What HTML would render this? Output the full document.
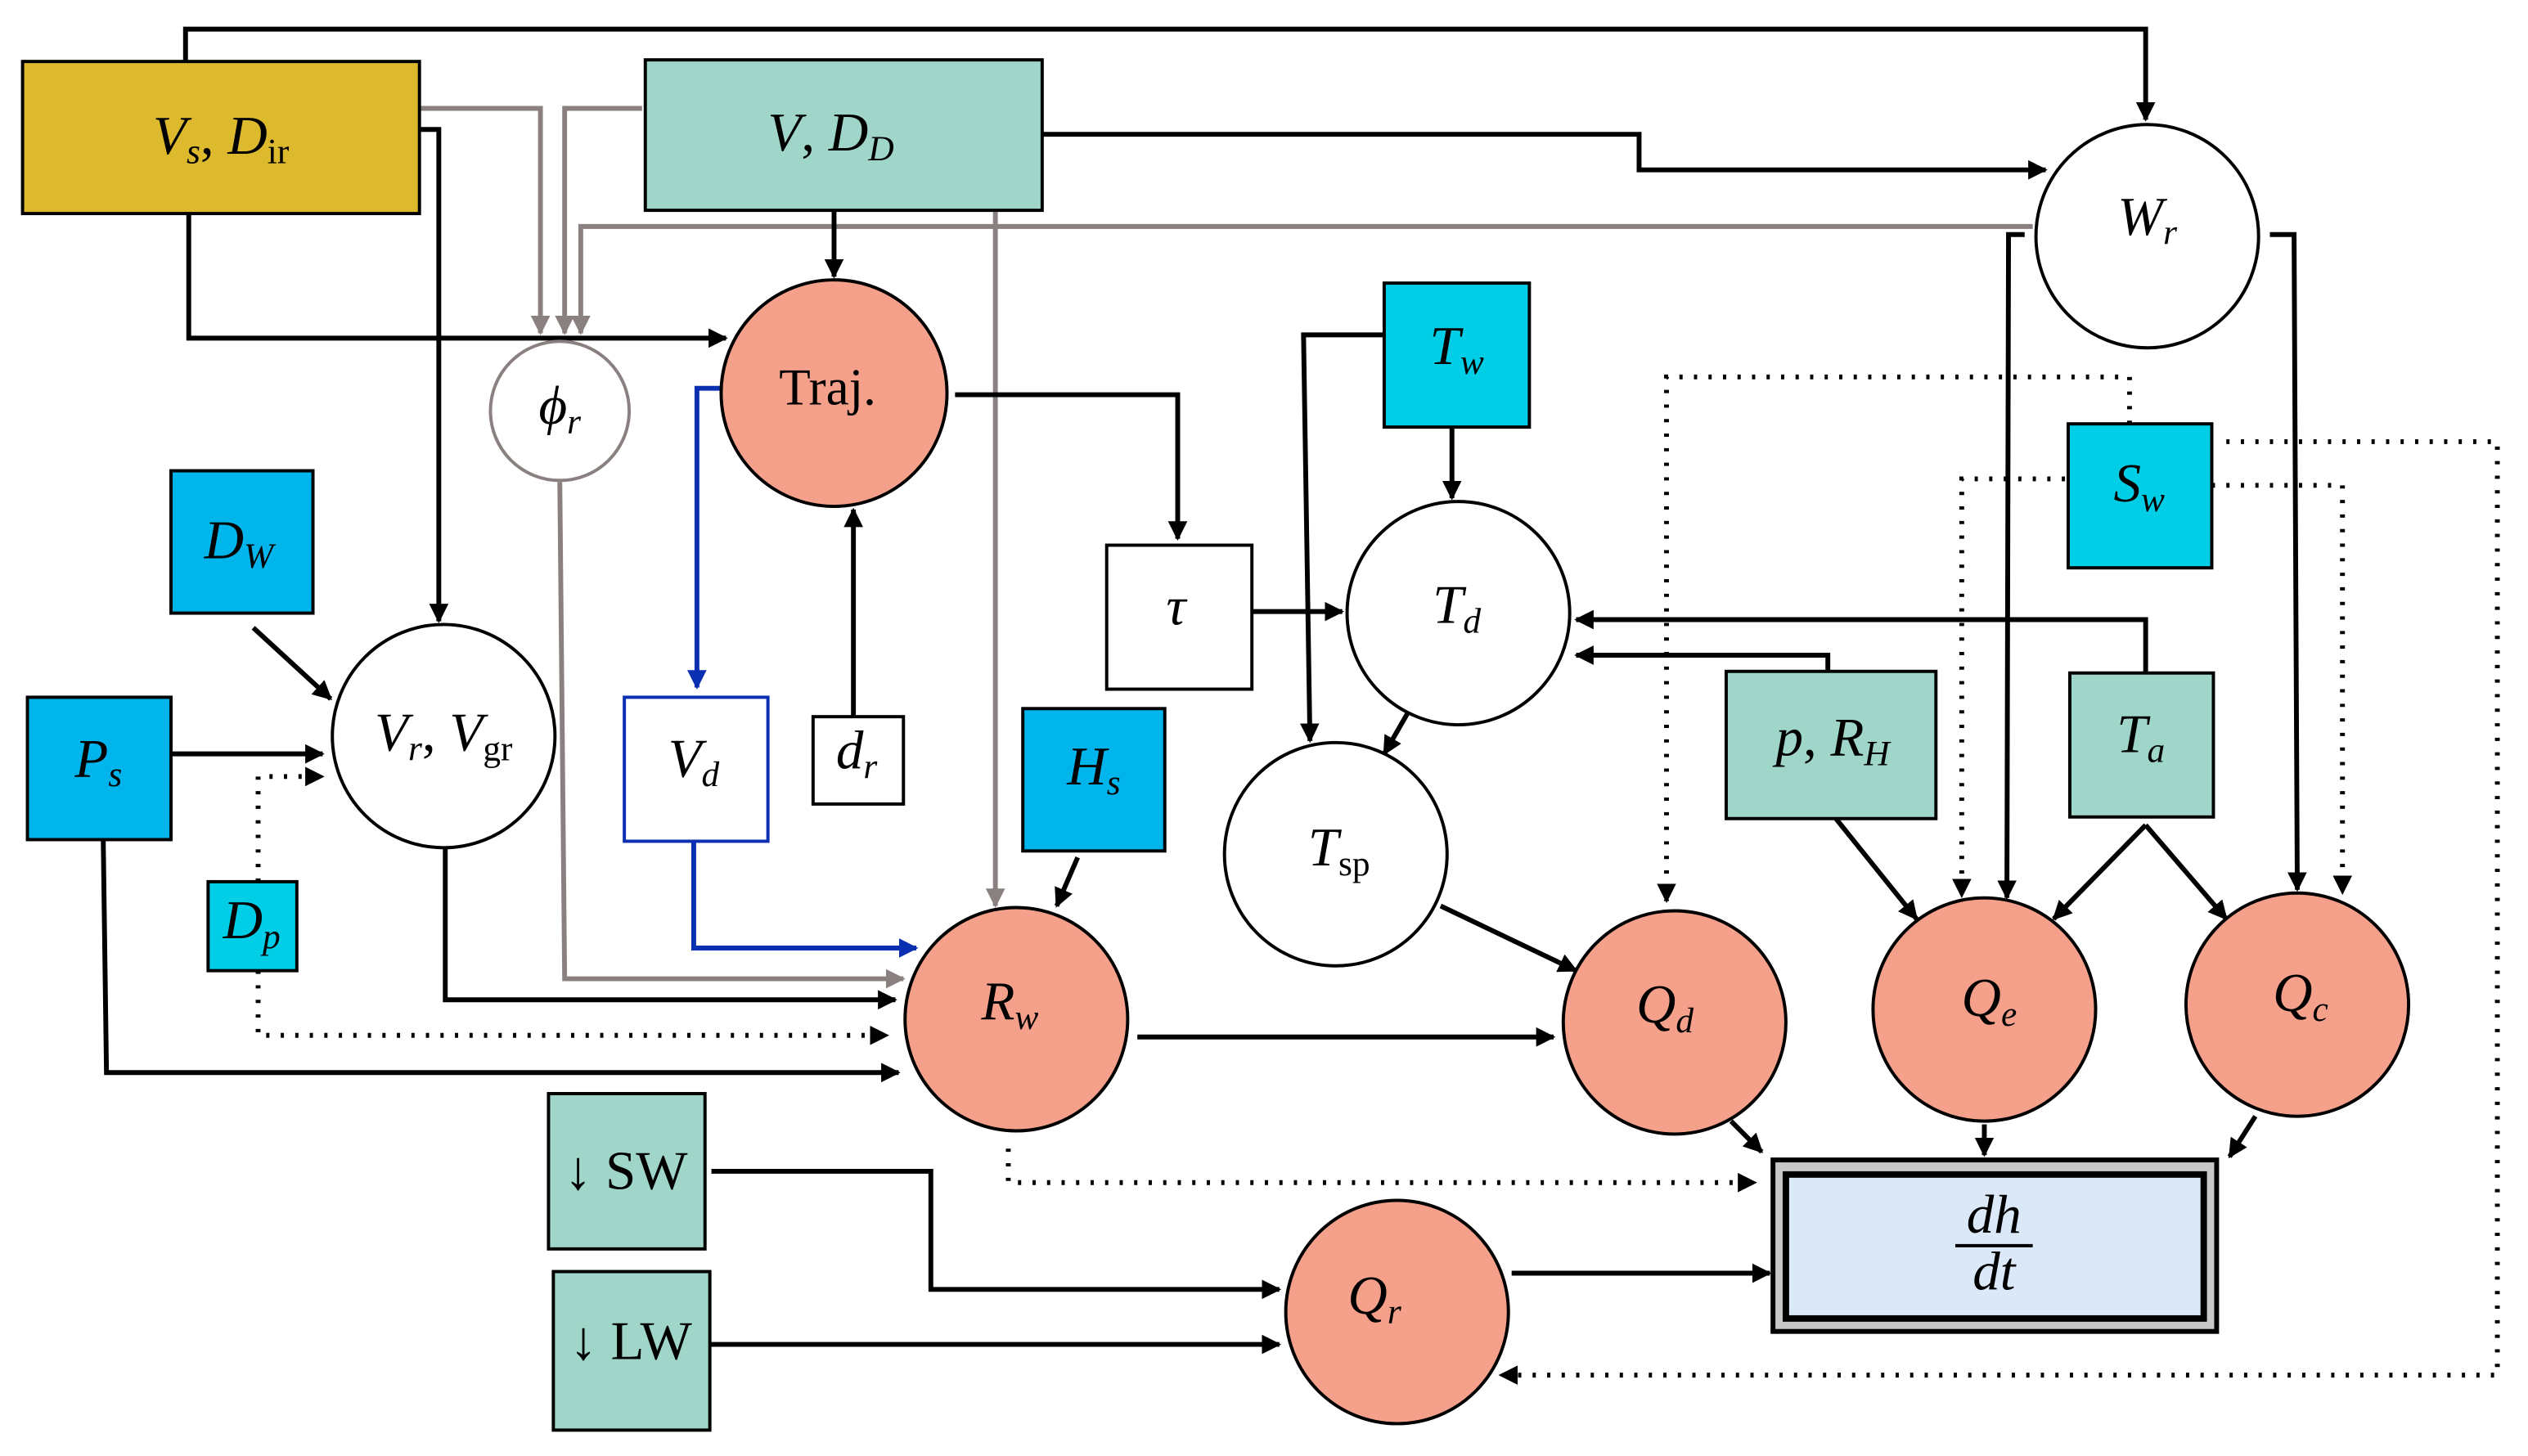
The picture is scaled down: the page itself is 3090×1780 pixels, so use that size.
<!DOCTYPE html>
<html><head><meta charset="utf-8"><style>
html,body{margin:0;padding:0;background:#fff;}
svg{display:block;}
text{font-family:"Liberation Serif",serif;font-size:34px;fill:#000;}
.i{font-style:italic;}
.s{font-size:22px;}
</style></head><body>
<svg width="3090" height="1780" viewBox="0 0 1567 900" preserveAspectRatio="none" xmlns="http://www.w3.org/2000/svg">
<defs>
<marker id="a" viewBox="0 0 10 10" refX="9" refY="5" markerWidth="4" markerHeight="4" orient="auto"><path d="M0,0 L10,5 L0,10 z" fill="#000"/></marker>
<marker id="g" viewBox="0 0 10 10" refX="9" refY="5" markerWidth="4" markerHeight="4" orient="auto"><path d="M0,0 L10,5 L0,10 z" fill="#8a8080"/></marker>
<marker id="b" viewBox="0 0 10 10" refX="9" refY="5" markerWidth="4" markerHeight="4" orient="auto"><path d="M0,0 L10,5 L0,10 z" fill="#0a2fb0"/></marker>
</defs>
<g fill="none" stroke="#8a8080" stroke-width="3" marker-end="url(#g)">
<path d="M260,67 H335 V206"/>
<path d="M398,67 H350 V206"/>
<path d="M1260,140 H360 V206"/>
<path d="M617,130 V560"/>
<path d="M347,298 L350,605 H560"/>
</g>
<g fill="none" stroke="#000" stroke-width="3" marker-end="url(#a)">
<path d="M115,38 V18 H1330 V74"/>
<path d="M646,83 H1016 V105 H1268"/>
<path d="M260,80 H272 V384"/>
<path d="M117,132 V209 H450"/>
<path d="M517,130 V171"/>
<path d="M592,244 H730 V333"/>
<path d="M529,443 V315"/>
<path d="M776,378 H832"/>
<path d="M900,264 V308"/>
<path d="M858,207 H808 L812,458"/>
<path d="M873,440 L858,466"/>
<path d="M1330,416 V383 H977"/>
<path d="M1133,415 V405 H977"/>
<path d="M157,388 L205,432"/>
<path d="M106,466 H200"/>
<path d="M276,524 V618 H555"/>
<path d="M64,519 L66,663 H557"/>
<path d="M668,530 L655,560"/>
<path d="M705,641 H963"/>
<path d="M893,560 L977,600"/>
<path d="M1255,145 H1245 L1244,555"/>
<path d="M1407,145 H1422 L1424,550"/>
<path d="M1138,506 L1188,568"/>
<path d="M1330,510 L1273,568"/>
<path d="M1330,510 L1380,568"/>
<path d="M1073,693 L1092,712"/>
<path d="M1230,695 V714"/>
<path d="M1398,690 L1382,715"/>
<path d="M937,787 H1097"/>
<path d="M441,724 H577 V797 H793"/>
<path d="M440,831 H793"/>
</g>
<g fill="none" stroke="#0a2fb0" stroke-width="3" marker-end="url(#b)">
<path d="M448,240 H432 V425"/>
<path d="M430,520 V586 H568"/>
</g>
<g fill="none" stroke="#000" stroke-width="3" stroke-dasharray="2,7" marker-end="url(#a)">
<path d="M160,545 V480 H200"/>
<path d="M160,600 V640 H550"/>
<path d="M1320,262 V233 H1033 V557"/>
<path d="M1280,296 H1216 V554"/>
<path d="M1371,300 H1452 V552"/>
<path d="M1380,273 H1548 V850 H930"/>
<path d="M625,710 V731 H1088"/>
</g>
<g stroke="#000" stroke-width="2">
<rect x="14" y="38" width="246" height="94" fill="#DDB92E"/>
<rect x="400" y="37" width="246" height="93" fill="#A0D6C9"/>
<circle cx="1331" cy="146" r="69" fill="#fff"/>
<circle cx="517" cy="243" r="70" fill="#F5A08A"/>
<circle cx="347" cy="254" r="43" fill="#fff" stroke="#8a8080"/>
<rect x="858" y="175" width="90" height="89" fill="#00CEE6"/>
<rect x="1282" y="262" width="89" height="89" fill="#00CEE6"/>
<rect x="106" y="291" width="88" height="88" fill="#00B4EC"/>
<rect x="17" y="431" width="89" height="88" fill="#00B4EC"/>
<circle cx="275" cy="455" r="69" fill="#fff"/>
<rect x="686" y="337" width="90" height="89" fill="#fff"/>
<circle cx="904" cy="379" r="69" fill="#fff"/>
<rect x="387" y="431" width="89" height="89" fill="#fff" stroke="#0a2fb0"/>
<rect x="504" y="443" width="56" height="54" fill="#fff"/>
<rect x="634" y="438" width="88" height="88" fill="#00B4EC"/>
<rect x="1070" y="415" width="130" height="91" fill="#A0D6C9"/>
<rect x="1283" y="416" width="89" height="89" fill="#A0D6C9"/>
<circle cx="828" cy="528" r="69" fill="#fff"/>
<rect x="129" y="545" width="55" height="55" fill="#00CEE6"/>
<circle cx="630" cy="630" r="69" fill="#F5A08A"/>
<circle cx="1038" cy="632" r="69" fill="#F5A08A"/>
<circle cx="1230" cy="624" r="69" fill="#F5A08A"/>
<circle cx="1424" cy="621" r="69" fill="#F5A08A"/>
<rect x="340" y="676" width="97" height="96" fill="#A0D6C9"/>
<rect x="343" y="786" width="97" height="98" fill="#A0D6C9"/>
<circle cx="866" cy="811" r="69" fill="#F5A08A"/>
<rect x="1099" y="717" width="275" height="106" fill="#c8c8c8" stroke-width="3"/>
<rect x="1107" y="726" width="259" height="89" fill="#DAE8F8" stroke-width="4"/>
</g>
<g text-anchor="middle">
<text x="137" y="95"><tspan class="i">V</tspan><tspan class="i s" dy="6">s</tspan><tspan dy="-6">, </tspan><tspan class="i">D</tspan><tspan class="s" dy="6">ir</tspan></text>
<text x="515" y="93"><tspan class="i">V</tspan>, <tspan class="i">D</tspan><tspan class="i s" dy="6">D</tspan></text>
<text x="1331" y="145"><tspan class="i">W</tspan><tspan class="i s" dy="6">r</tspan></text>
<text x="513" y="250" style="font-size:32px">Traj.</text>
<text x="347" y="262"><tspan class="i">ϕ</tspan><tspan class="i s" dy="6">r</tspan></text>
<text x="903" y="225"><tspan class="i">T</tspan><tspan class="i s" dy="6">w</tspan></text>
<text x="1326" y="310"><tspan class="i">S</tspan><tspan class="i s" dy="6">w</tspan></text>
<text x="148" y="345"><tspan class="i">D</tspan><tspan class="i s" dy="6">W</tspan></text>
<text x="61" y="480"><tspan class="i">P</tspan><tspan class="i s" dy="6">s</tspan></text>
<text x="275" y="464"><tspan class="i">V</tspan><tspan class="i s" dy="6">r</tspan><tspan dy="-6">, </tspan><tspan class="i">V</tspan><tspan class="s" dy="6">gr</tspan></text>
<text x="729" y="386" class="i">τ</text>
<text x="903" y="385"><tspan class="i">T</tspan><tspan class="i s" dy="6">d</tspan></text>
<text x="430" y="480"><tspan class="i">V</tspan><tspan class="i s" dy="6">d</tspan></text>
<text x="531" y="475"><tspan class="i">d</tspan><tspan class="i s" dy="6">r</tspan></text>
<text x="678" y="485"><tspan class="i">H</tspan><tspan class="i s" dy="6">s</tspan></text>
<text x="1136" y="467"><tspan class="i">p</tspan>, <tspan class="i">R</tspan><tspan class="i s" dy="6">H</tspan></text>
<text x="1327" y="465"><tspan class="i">T</tspan><tspan class="i s" dy="6">a</tspan></text>
<text x="830" y="535"><tspan class="i">T</tspan><tspan class="s" dy="6">sp</tspan></text>
<text x="156" y="580"><tspan class="i">D</tspan><tspan class="i s" dy="6">p</tspan></text>
<text x="626" y="630"><tspan class="i">R</tspan><tspan class="i s" dy="6">w</tspan></text>
<text x="1032" y="632"><tspan class="i">Q</tspan><tspan class="i s" dy="6">d</tspan></text>
<text x="1233" y="628"><tspan class="i">Q</tspan><tspan class="i s" dy="6">e</tspan></text>
<text x="1426" y="625"><tspan class="i">Q</tspan><tspan class="i s" dy="6">c</tspan></text>
<text x="388" y="735">↓ SW</text>
<text x="391" y="840">↓ LW</text>
<text x="852" y="812"><tspan class="i">Q</tspan><tspan class="i s" dy="6">r</tspan></text>
<text x="1236" y="762" class="i">dh</text>
<line x1="1212" y1="770" x2="1260" y2="770" stroke="#000" stroke-width="2"/>
<text x="1236" y="797" class="i">dt</text>
</g>
</svg>
</body></html>
